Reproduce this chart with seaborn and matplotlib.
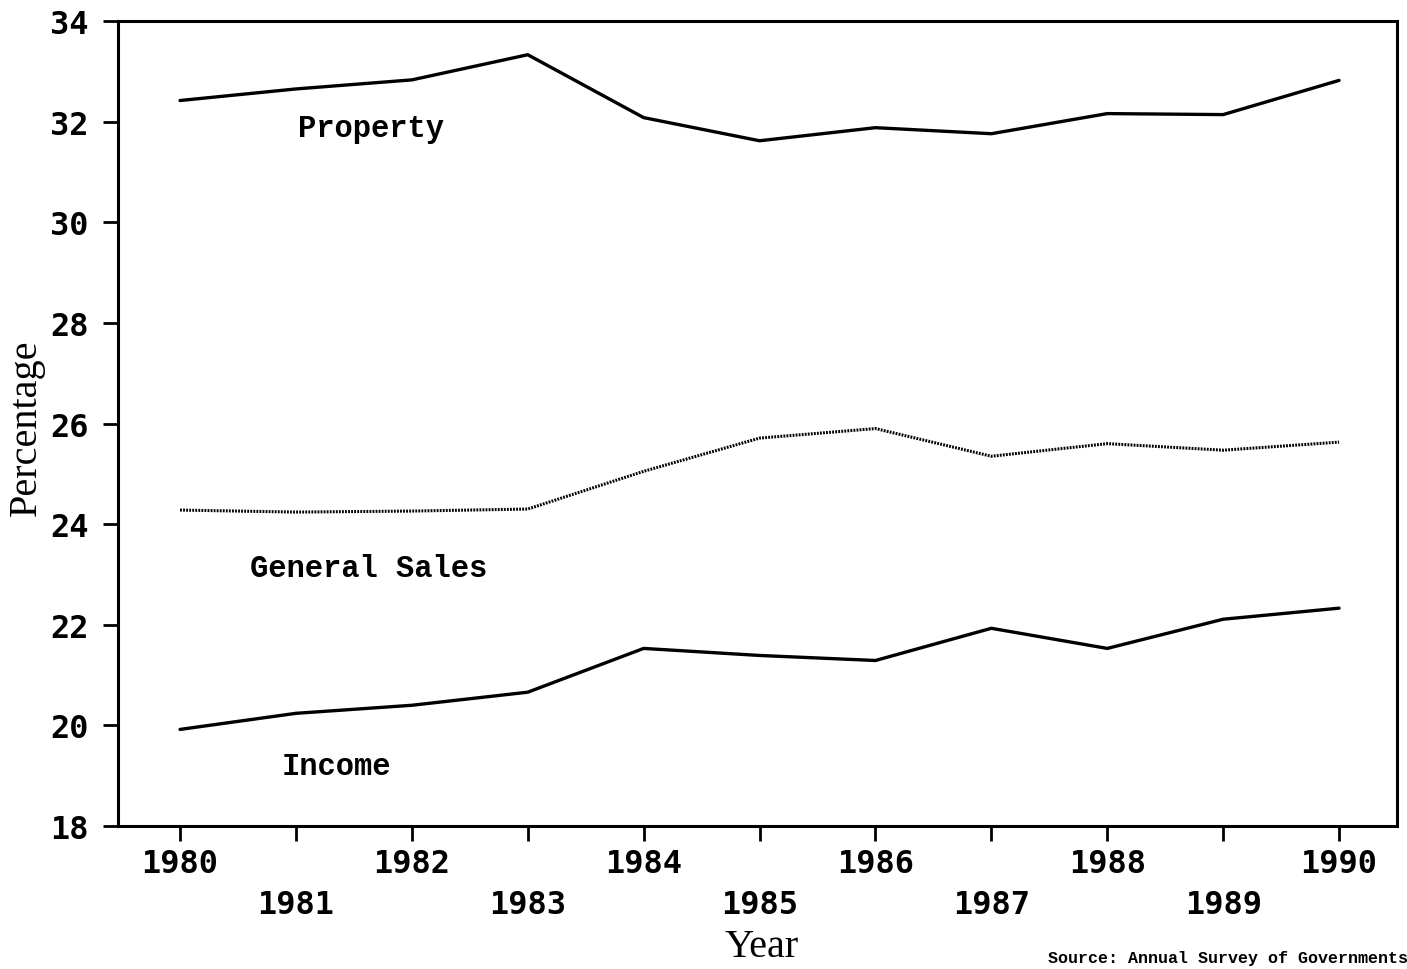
import pandas as pd
import matplotlib.pyplot as plt
import seaborn as sns

# Data
years = list(range(1980, 1991))
property_tax = [32.42, 32.65, 32.83, 33.33, 32.08, 31.62, 31.88, 31.76, 32.16, 32.14, 32.82]
general_sales = [24.28, 24.24, 24.26, 24.30, 25.05, 25.71, 25.90, 25.35, 25.60, 25.47, 25.63]
income_tax = [19.92, 20.24, 20.40, 20.66, 21.53, 21.39, 21.29, 21.93, 21.53, 22.11, 22.33]
y_ticks = [18, 20, 22, 24, 26, 28, 30, 32, 34]

df = pd.DataFrame({"Year": years, "Property": property_tax,
                   "General Sales": general_sales, "Income": income_tax})

sns.set_style("white")
plt.rcParams['font.family'] = ['DejaVu Sans Mono', 'DejaVu Sans']
plt.rcParams['text.color'] = 'black'
plt.rcParams['axes.labelcolor'] = 'black'
plt.rcParams['xtick.color'] = 'black'
plt.rcParams['ytick.color'] = 'black'

fig = plt.figure(figsize=(14.07, 9.7), dpi=100)
ax = fig.add_axes([0.0839, 0.1474, 0.909, 0.8299])

sns.lineplot(x="Year", y="Property", data=df, color="black", linewidth=2.4, ax=ax)
sns.lineplot(x="Year", y="General Sales", data=df, color="black", linewidth=2.2,
             linestyle=(0, (0.6, 0.4)), ax=ax)
sns.lineplot(x="Year", y="Income", data=df, color="black", linewidth=2.4, ax=ax)

ax.set_xlim(1979.465, 1990.5)
ax.set_ylim(18, 34)

# alternating tick labels like the original
ax.set_xticks(years)
ax.set_xticklabels([str(y) if y % 2 == 0 else "\n" + str(y) for y in years],
                   fontsize=23, fontweight="bold", linespacing=1.4)
ax.set_yticks(y_ticks)
ax.set_yticklabels([str(v) for v in y_ticks], fontsize=23, fontweight="bold")
ax.tick_params(axis="both", which="major", direction="out", length=11, width=2,
               color="black", labelcolor="black", bottom=True, left=True)
ax.tick_params(axis="x", pad=5)
ax.tick_params(axis="y", pad=10)

for side in ["top", "bottom", "left", "right"]:
    ax.spines[side].set_color("black")
    ax.spines[side].set_linewidth(2.2)

ax.set_xlabel("Year", family="Liberation Serif", fontsize=29)
ax.xaxis.set_label_coords(0.5035, -0.127)
ax.set_ylabel("Percentage", family="Liberation Serif", fontsize=29)
ax.yaxis.set_label_coords(-0.072, 0.496)
ax.yaxis.label.set_va("center")

lab = dict(family="Liberation Mono", fontweight="bold", fontsize=22,
           ha="center", va="center")
ax.text(1981.65, 31.88, "Property", **lab)
ax.text(1981.63, 23.13, "General Sales", **lab)
ax.text(1981.35, 19.2, "Income", **lab)

fig.text(0.745, 0.004, "Source: Annual Survey of Governments", family="Liberation Mono",
         fontweight="bold", fontsize=12, ha="left", va="bottom")

fig.savefig("out.png", dpi=100, facecolor="white")
